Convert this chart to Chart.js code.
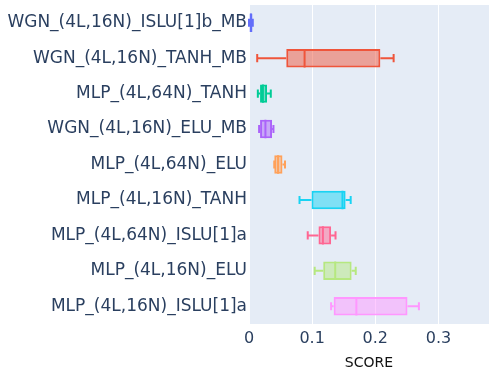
<!DOCTYPE html>
<html>
<head>
<meta charset="utf-8">
<script src="https://cdn.jsdelivr.net/npm/chart.js@4.4.1/dist/chart.umd.min.js"></script>
<style>
  html, body { margin: 0; padding: 0; background: #fff; }
  #wrap { width: 496px; height: 386px; }
</style>
</head>
<body>
<div id="wrap"><canvas id="chart"></canvas></div>
<script>
// モデル名（上から順）
const models = [
    'WGN_(4L,16N)_ISLU[1]b_MB',
    'WGN_(4L,16N)_TANH_MB',
    'MLP_(4L,64N)_TANH',
    'WGN_(4L,16N)_ELU_MB',
    'MLP_(4L,64N)_ELU',
    'MLP_(4L,16N)_TANH',
    'MLP_(4L,64N)_ISLU[1]a',
    'MLP_(4L,16N)_ELU',
    'MLP_(4L,16N)_ISLU[1]a'
];

// 箱ひげの値
const whiskerLow = [0.000, 0.013, 0.014, 0.016, 0.040, 0.080, 0.093, 0.104, 0.130];
const q1 =         [0.001, 0.059, 0.0175, 0.0175, 0.040, 0.099, 0.110, 0.1175, 0.134];
const median =     [0.003, 0.088, 0.022, 0.026, 0.046, 0.148, 0.117, 0.1365, 0.170];
const q3 =         [0.0055, 0.208, 0.0286, 0.0365, 0.053, 0.153, 0.130, 0.1625, 0.251];
const whiskerHigh = [0.006, 0.229, 0.0345, 0.0387, 0.057, 0.161, 0.137, 0.169, 0.269];

const xTicks = [0, 0.1, 0.2, 0.3];

const colors = ['#636efa', '#EF553B', '#00cc96', '#ab63fa', '#FFA15A', '#19d3f3', '#FF6692', '#B6E880', '#FF97FF'];

const font = 'DejaVu Sans';

function withAlpha(hex, a) {
    const n = parseInt(hex.slice(1), 16);
    return 'rgba(' + (n >> 16) + ',' + ((n >> 8) & 255) + ',' + (n & 255) + ',' + a + ')';
}

// プロット領域の背景
const bgPlugin = {
    id: 'plotBg',
    beforeDraw(chart) {
        const { ctx, chartArea: a } = chart;
        ctx.save();
        ctx.fillStyle = '#E5ECF6';
        ctx.fillRect(a.left, a.top, a.right - a.left, a.bottom - a.top);
        ctx.restore();
    }
};

// ひげと中央値を描く
const boxPlugin = {
    id: 'boxWhiskers',
    afterDatasetsDraw(chart) {
        const ctx = chart.ctx;
        const xs = chart.scales.x;
        const meta = chart.getDatasetMeta(0);
        ctx.save();
        ctx.lineWidth = 2;
        meta.data.forEach((bar, i) => {
            const y = bar.y;
            const h = bar.height;
            const cap = h * 0.22;
            const xl = xs.getPixelForValue(whiskerLow[i]);
            const x1 = xs.getPixelForValue(q1[i]);
            const xm = xs.getPixelForValue(median[i]);
            const x3 = xs.getPixelForValue(q3[i]);
            const xh = xs.getPixelForValue(whiskerHigh[i]);
            ctx.strokeStyle = colors[i];
            ctx.beginPath();
            ctx.moveTo(xl, y); ctx.lineTo(x1, y);
            ctx.moveTo(x3, y); ctx.lineTo(xh, y);
            ctx.moveTo(xl, y - cap); ctx.lineTo(xl, y + cap);
            ctx.moveTo(xh, y - cap); ctx.lineTo(xh, y + cap);
            ctx.moveTo(xm, y - h / 2); ctx.lineTo(xm, y + h / 2);
            ctx.stroke();
        });
        ctx.restore();
    }
};

const boxes = models.map((m, i) => [q1[i], q3[i]]);

new Chart(document.getElementById('chart'), {
    type: 'bar',
    data: {
        labels: models,
        datasets: [{
            data: boxes,
            backgroundColor: colors.map(c => withAlpha(c, 0.5)),
            borderColor: colors,
            borderWidth: 2,
            borderSkipped: false,
            categoryPercentage: 1.0,
            barPercentage: 0.52
        }]
    },
    options: {
        indexAxis: 'y',
        responsive: true,
        maintainAspectRatio: false,
        animation: false,
        layout: { padding: { left: 0, right: 7, top: 5, bottom: 0 } },
        plugins: {
            legend: { display: false },
            tooltip: { enabled: false }
        },
        scales: {
            x: {
                min: 0,
                max: 0.38,
                afterBuildTicks(s) { s.ticks = xTicks.map(v => ({ value: v })); },
                afterFit(s) { s.height = 62; s.paddingLeft = 0; s.paddingRight = 0; },
                grid: { color: '#ffffff', lineWidth: 1, drawTicks: false },
                border: { display: false },
                ticks: {
                    color: '#2a3f5f',
                    font: { family: font, size: 16 },
                    padding: 5,
                    maxRotation: 0,
                    callback: v => String(v)
                },
                title: {
                    display: true,
                    text: 'SCORE',
                    color: '#111111',
                    font: { family: font, size: 14 },
                    padding: { top: 4, bottom: 14 }
                }
            },
            y: {
                afterFit(s) { s.width = 249; s.paddingTop = 0; s.paddingBottom = 0; },
                grid: { display: false, drawTicks: false },
                border: { display: false },
                ticks: {
                    color: '#2a3f5f',
                    font: { family: font, size: 17 },
                    padding: 2
                }
            }
        }
    },
    plugins: [bgPlugin, boxPlugin]
});
</script>
</body>
</html>
